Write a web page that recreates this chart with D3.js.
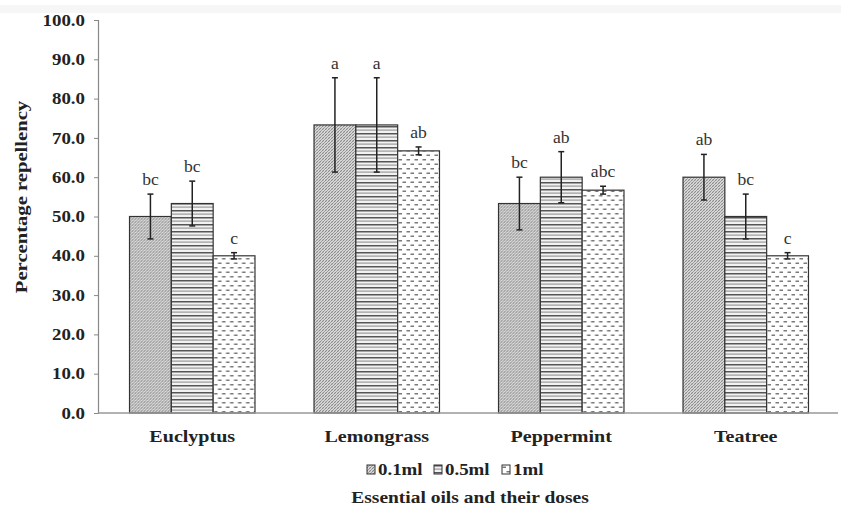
<!DOCTYPE html>
<html>
<head>
<meta charset="utf-8">
<script src="https://cdn.jsdelivr.net/npm/d3@7"></script>
<style>
  html, body { margin: 0; padding: 0; background: #fff; }
  svg { display: block; font-family: "Liberation Serif", "Times New Roman", serif; }
</style>
</head>
<body>
<svg id="chart" width="841" height="510"></svg>
<script>
// Repellency of essential oils at three doses
const categories = ["Euclyptus", "Lemongrass", "Peppermint", "Teatree"];
const doses = ["0.1ml", "0.5ml", "1ml"];
const values = [
  [50.0, 53.3, 40.0],
  [73.3, 73.3, 66.7],
  [53.3, 60.0, 56.7],
  [60.0, 50.0, 40.0]
];
const errors = [
  [5.7, 5.7, 0.8],
  [12.0, 12.0, 1.0],
  [6.7, 6.5, 1.0],
  [5.8, 5.7, 0.8]
];
const letters = [
  ["bc", "bc", "c"],
  ["a", "a", "ab"],
  ["bc", "ab", "abc"],
  ["ab", "bc", "c"]
];
const yTicks = [0, 10, 20, 30, 40, 50, 60, 70, 80, 90, 100];

const svg = d3.select("#chart");
const margin = { left: 98, right: 3, top: 20, bottom: 97 };
const W = 841, H = 510;
const SX = 1.18; // wide serif lettering

const x = d3.scaleBand().domain(categories).range([margin.left + 2, W - margin.right]).paddingInner(0.32).paddingOuter(0.16);
const xs = d3.scaleBand().domain(doses).range([0, x.bandwidth()]);
const y = d3.scaleLinear().domain([0, 100]).range([H - margin.bottom, margin.top]);

// fill patterns for the three doses
const defs = svg.append("defs");
const p1 = defs.append("pattern").attr("id", "pat0").attr("patternUnits", "userSpaceOnUse")
  .attr("width", 3).attr("height", 3);
p1.append("rect").attr("width", 3).attr("height", 3).attr("fill", "#d9d9d9");
p1.append("path").attr("d", "M-1,1 L1,-1 M0,3 L3,0 M2,4 L4,2").attr("stroke", "#7c7c7c").attr("stroke-width", 0.85);
p1.append("path").attr("d", "M-1,2 L1,4 M0,0 L3,3 M2,-1 L4,1").attr("stroke", "#b0b0b0").attr("stroke-width", 0.5);

const p2 = defs.append("pattern").attr("id", "pat1").attr("patternUnits", "userSpaceOnUse")
  .attr("width", 8).attr("height", 7);
p2.append("rect").attr("width", 8).attr("height", 7).attr("fill", "#f2f2f2");
p2.append("rect").attr("y", 0).attr("width", 8).attr("height", 1.5).attr("fill", "#555");
p2.append("rect").attr("y", 3.5).attr("width", 8).attr("height", 1.2).attr("fill", "#9a9a9a");

const p3 = defs.append("pattern").attr("id", "pat2").attr("patternUnits", "userSpaceOnUse")
  .attr("width", 8).attr("height", 9);
p3.append("rect").attr("width", 8).attr("height", 9).attr("fill", "#fff");
p3.append("rect").attr("x", 0.5).attr("y", 1.5).attr("width", 3.5).attr("height", 1.5).attr("fill", "#7a7a7a");
p3.append("rect").attr("x", 4.5).attr("y", 6).attr("width", 3.5).attr("height", 1.5).attr("fill", "#7a7a7a");

// faint band along the top
svg.append("rect").attr("x", 0).attr("y", 5).attr("width", W).attr("height", 8).attr("fill", "#f6f6f6");

// y axis
const yAxis = d3.axisLeft(y).tickValues(yTicks).tickFormat(d3.format(".1f")).tickSize(4).tickPadding(0);
const gy = svg.append("g").attr("transform", `translate(${margin.left},0)`).call(yAxis);
gy.select(".domain").attr("stroke", "#888").attr("stroke-width", 1.2);
gy.selectAll(".tick line").attr("stroke", "#888");
gy.selectAll(".tick text")
  .attr("x", 0).attr("transform", `translate(-13,0) scale(${SX},1)`)
  .attr("font-size", 16).attr("font-weight", "bold")
  .attr("font-family", "Liberation Serif, serif").attr("fill", "#222");

// bars
const groups = svg.append("g").selectAll("g").data(categories).join("g")
  .attr("transform", d => `translate(${x(d)},0)`);

groups.each(function(cat, ci) {
  const g = d3.select(this);
  doses.forEach((dose, di) => {
    const v = values[ci][di];
    g.append("rect")
      .attr("x", xs(dose)).attr("width", xs.bandwidth())
      .attr("y", y(v)).attr("height", y(0) - y(v))
      .attr("fill", `url(#pat${di})`).attr("stroke", "#333").attr("stroke-width", 1.2);
  });
  doses.forEach((dose, di) => {
    const v = values[ci][di], e = errors[ci][di];
    const cx = xs(dose) + xs.bandwidth() / 2;
    g.append("line").attr("x1", cx).attr("x2", cx).attr("y1", y(v + e)).attr("y2", y(v - e))
      .attr("stroke", "#222").attr("stroke-width", 1.5);
    [v + e, v - e].forEach(t => {
      g.append("line").attr("x1", cx - 3).attr("x2", cx + 3).attr("y1", y(t)).attr("y2", y(t))
        .attr("stroke", "#222").attr("stroke-width", 1.5);
    });
    g.append("text").attr("transform", `translate(${cx},${y(v + e) - 9}) scale(1.1,1)`)
      .attr("text-anchor", "middle").attr("font-size", 16).attr("fill", "#333")
      .text(letters[ci][di]);
  });
});

// x axis baseline
svg.append("line").attr("x1", margin.left).attr("x2", W - margin.right)
  .attr("y1", y(0)).attr("y2", y(0)).attr("stroke", "#999").attr("stroke-width", 1.5);

// category labels
svg.append("g").selectAll("text").data(categories).join("text")
  .attr("transform", d => `translate(${x(d) + x.bandwidth() / 2},442) scale(${SX},1)`)
  .attr("text-anchor", "middle").attr("font-size", 17).attr("font-weight", "bold").attr("fill", "#222")
  .text(d => d);

// legend
const legendX = [367, 434, 502];
const leg = svg.append("g").selectAll("g").data(doses).join("g")
  .attr("transform", (d, i) => `translate(${legendX[i]},465)`);
leg.append("rect").attr("width", 8).attr("height", 9).attr("y", 0)
  .attr("fill", (d, i) => `url(#pat${i})`).attr("stroke", "#333").attr("stroke-width", 1);
leg.append("text").attr("transform", `translate(11,9.5) scale(${SX},1)`)
  .attr("font-size", 16).attr("font-weight", "bold").attr("fill", "#222")
  .text(d => d);

// axis titles
svg.append("text").attr("transform", `translate(470,503) scale(${SX},1)`).attr("text-anchor", "middle")
  .attr("font-size", 16.5).attr("font-weight", "bold").attr("fill", "#222")
  .text("Essential oils and their doses");
svg.append("text").attr("transform", `translate(27,197) rotate(-90) scale(${SX},1)`).attr("text-anchor", "middle")
  .attr("font-size", 17.5).attr("font-weight", "bold").attr("fill", "#222")
  .text("Percentage repellency");
</script>
</body>
</html>
